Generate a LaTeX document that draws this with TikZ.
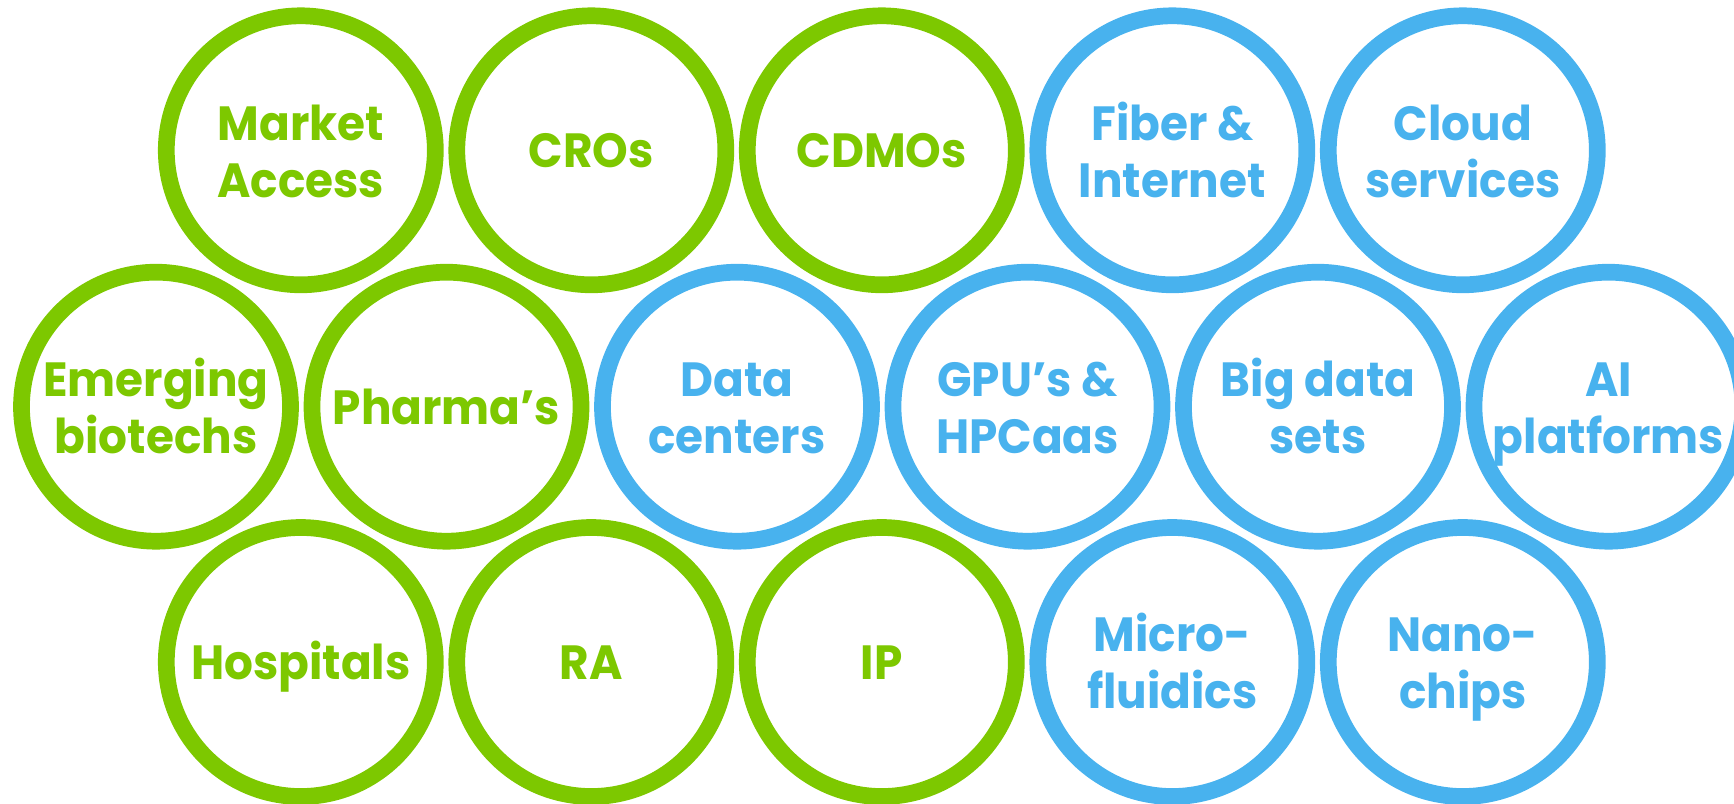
\documentclass[tikz,border=0pt]{standalone}
\usepackage{fontspec}
\setmainfont{Poppins}[FakeStretch=0.945]
\definecolor{ggreen}{RGB}{125,200,0}
\definecolor{gblue}{RGB}{72,178,238}
\tikzset{
  ring/.style={circle, draw=#1, line width=16.7pt, minimum size=269pt, inner sep=0pt},
  lbl/.style={text=#1, anchor=base, inner sep=0pt, font=\fontsize{48}{57}\selectfont\bfseries},
}
\newcommand{\ringone}[5]{%
  \node[ring=#4] (#1) at (#2,#3) {};
  \node[lbl=#4] (#1a) at ($(#1)+(0,17.5)$) {#5};
}
\newcommand{\ringtwo}[6]{%
  \node[ring=#4] (#1) at (#2,#3) {};
  \node[lbl=#4] (#1a) at ($(#1)+(0,-10.3)$) {#5};
  \node[lbl=#4] (#1b) at ($(#1)+(0,46.7)$) {#6};
}
\usetikzlibrary{calc}
\begin{document}
\begin{tikzpicture}[x=1pt,y=-1pt]
\useasboundingbox (0,0) rectangle (1734,803);
\clip (0,0) rectangle (1734,803);
% top row
\ringtwo{ma}{300.8}{150.3}{ggreen}{Market}{Access}
\ringone{cro}{591.3}{150.3}{ggreen}{CROs}
\ringone{cdmo}{881.8}{150.3}{ggreen}{CDMOs}
\ringtwo{fib}{1172.3}{150.3}{gblue}{Fiber \&}{Internet}
\ringtwo{cld}{1462.8}{150.3}{gblue}{Cloud}{services}
% middle row
\ringtwo{emb}{156}{406.7}{ggreen}{Emerging}{biotechs}
\ringone{pha}{446.5}{406.7}{ggreen}{Pharma’s}
\ringtwo{dc}{737}{406.7}{gblue}{Data}{centers}
\ringtwo{gpu}{1027.5}{406.7}{gblue}{GPU’s \&}{HPCaas}
\ringtwo{bd}{1318}{406.7}{gblue}{Big data}{sets}
\ringtwo{ai}{1608.5}{406.7}{gblue}{AI}{platforms}
% bottom row
\ringone{hos}{300.8}{662}{ggreen}{Hospitals}
\ringone{ra}{591.3}{662}{ggreen}{RA}
\ringone{ip}{881.8}{662}{ggreen}{IP}
\ringtwo{mf}{1172.3}{662}{gblue}{Micro-}{fluidics}
\ringtwo{nc}{1462.8}{662}{gblue}{Nano-}{chips}
\end{tikzpicture}
\end{document}
